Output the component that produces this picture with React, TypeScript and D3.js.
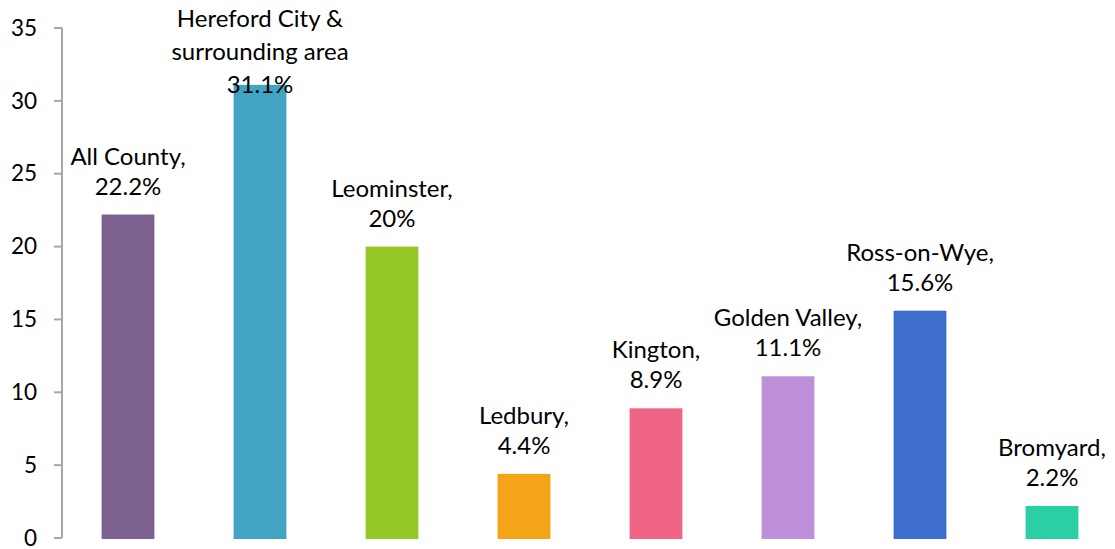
import React from "react";
import * as d3 from "d3";

const categories = ["All County", "Hereford City & surrounding area", "Leominster", "Ledbury", "Kington", "Golden Valley", "Ross-on-Wye", "Bromyard"];
const values = [22.2, 31.1, 20, 4.4, 8.9, 11.1, 15.6, 2.2];
const labelLines = [
  ["All County,", "22.2%"],
  ["Hereford City &", "surrounding area", "31.1%"],
  ["Leominster,", "20%"],
  ["Ledbury,", "4.4%"],
  ["Kington,", "8.9%"],
  ["Golden Valley,", "11.1%"],
  ["Ross-on-Wye,", "15.6%"],
  ["Bromyard,", "2.2%"],
];
const colors = ["#7B6190", "#41A4C3", "#95C927", "#F5A418", "#F06486", "#BF90DA", "#3E6ECD", "#2BCFA6"];
const yTicks = [0, 5, 10, 15, 20, 25, 30, 35];

export default function App() {
  const W = 1115, H = 549;
  const x0 = 62, x1 = 1118, yTop = 28, yBot = 538;
  const x = d3.scaleBand<string>().domain(categories).range([x0, x1]).paddingInner(0.6).paddingOuter(0.3);
  const y = d3.scaleLinear().domain([0, 35]).range([yBot, yTop]);
  const font = "Lato, 'Open Sans', sans-serif";
  return (
    <svg width={W} height={H} style={{ position: "absolute", left: 0, top: 0 }}>
      <rect width={W} height={H} fill="#fff" />
      {categories.map((c, i) => (
        <rect key={c} x={x(c)!} y={y(values[i])} width={x.bandwidth()} height={y(0) - y(values[i]) + 1} fill={colors[i]} />
      ))}
      <line x1={x0} x2={x0} y1={y(35)} y2={y(0)} stroke="#A6A6A6" strokeWidth={2} />
      {yTicks.map((t) => (
        <g key={t}>
          <line x1={x0 - 8} x2={x0} y1={y(t)} y2={y(t)} stroke="#A6A6A6" strokeWidth={2} />
          <text x={37} y={y(t)} dy="0.34em" textAnchor="end" fontFamily={font} fontSize={22.5} fill="#000">{t}</text>
        </g>
      ))}
      {categories.map((c, i) => {
        const lines = labelLines[i];
        const cx = x(c)! + x.bandwidth() / 2;
        const three = lines.length > 2;
        const spacing = three ? 33 : 30;
        const lastBase = three ? y(values[i]) + 8 : y(values[i]) - 20;
        return (
          <text key={c} textAnchor="middle" fontFamily={font} fontSize={24} fill="#000">
            {lines.map((l, j) => (
              <tspan key={j} x={cx} y={lastBase - (lines.length - 1 - j) * spacing}>{l}</tspan>
            ))}
          </text>
        );
      })}
    </svg>
  );
}
